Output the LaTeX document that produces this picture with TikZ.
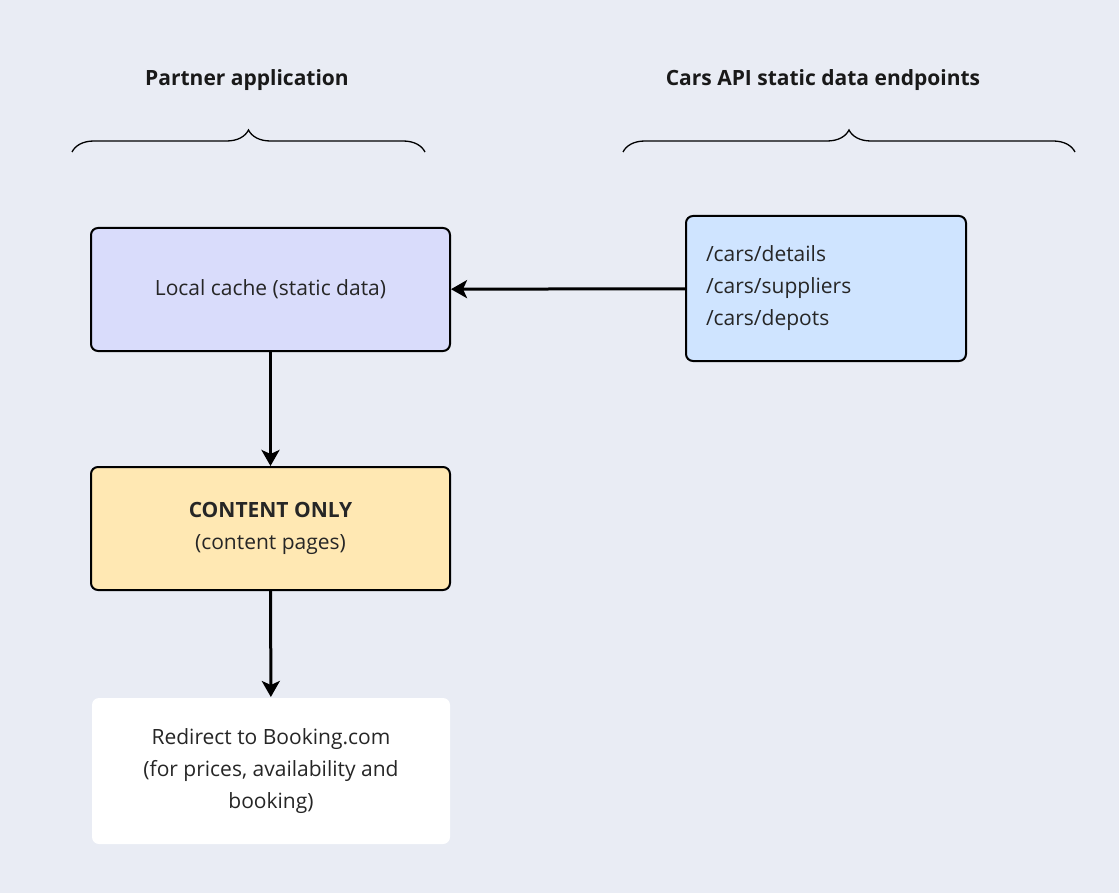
\documentclass[tikz,border=0pt]{standalone}
\usepackage{fontspec}
\setmainfont{Open Sans}
\usetikzlibrary{decorations.pathreplacing,arrows.meta}
\definecolor{bgcol}{RGB}{233,236,244}
\definecolor{cachecol}{RGB}{217,220,251}
\definecolor{apicol}{RGB}{207,228,255}
\definecolor{contcol}{RGB}{255,232,179}
\tikzset{box/.style={draw=black,line width=2pt,rounded corners=7pt,align=center,
  font=\fontsize{21}{32}\selectfont,text=black!85}}
\tikzset{edge/.style={line width=3pt,-{Stealth[length=16pt,width=18pt,inset=4pt]}}}
\tikzset{brace/.style={decorate,decoration={brace,amplitude=22pt,aspect=.5},line width=1.3pt}}
\tikzset{title/.style={font=\fontsize{21}{26}\selectfont\bfseries,text=black!90}}
\begin{document}
\begin{tikzpicture}[x=1pt,y=-1pt]
\fill[bgcol] (0,0) rectangle (1119,893);
\useasboundingbox (0,0) rectangle (1119,893);

\node[title] (t1) at (247,80) {Partner application};
\node[title] (t2) at (823,80) {Cars API static data endpoints};
\draw[brace] (72,152) -- (425,152);
\draw[brace] (623,152) -- (1075,152);

\node[box,fill=cachecol,minimum width=359pt,minimum height=123pt] (cache) at (270.5,289.5) {Local cache (static data)};
\node[box,fill=apicol,minimum width=280pt,minimum height=145pt,text width=240pt,align=left] (api) at (826,288.5)
  {/cars/details\\/cars/suppliers\\/cars/depots};
\node[box,fill=contcol,minimum width=359pt,minimum height=123pt] (content) at (270.5,528.5) {\textbf{CONTENT ONLY}\\(content pages)};
\node[box,draw=none,fill=white,minimum width=358pt,minimum height=146pt] (redirect) at (271,771)
  {Redirect to Booking.com\\(for prices, availability and\\booking)};

\draw[edge] (api) -- (cache);
\draw[edge] (cache) -- (content);
\draw[edge] (content) -- (redirect);
\end{tikzpicture}
\end{document}
